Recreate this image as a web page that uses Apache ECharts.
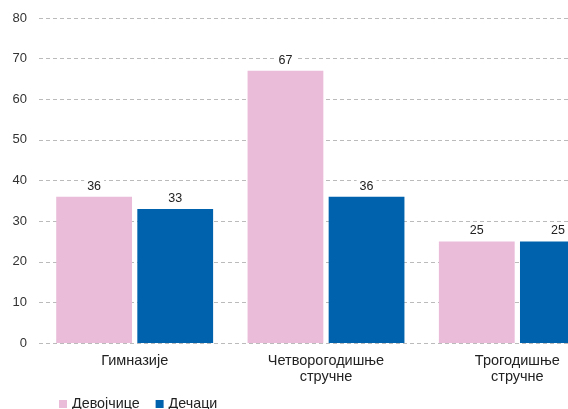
<!DOCTYPE html>
<html><head><meta charset="utf-8">
<script src="https://cdn.jsdelivr.net/npm/echarts@6/dist/echarts.min.js"></script>
<style>html,body{margin:0;padding:0;background:#fff;overflow:hidden;width:568px;height:409px}#c{width:620px;height:409px}</style>
</head><body><div id="c"></div>
<script>
const categories = ['Гимназије', 'Четворогодишње\nстручне', 'Трогодишње\nстручне'];
const seriesNames = ['Девојчице', 'Дечаци'];
const girls = [36, 67, 25];
const boys = [33, 36, 25];
const yTicks = { min: 0, max: 80, interval: 10 };

const chart = echarts.init(document.getElementById('c'), null, { renderer: 'canvas' });
const font = 'Liberation Sans, Arial, sans-serif';
const lbl = {
  show: true, position: 'top', distance: 4, color: '#222', fontSize: 12.5, fontFamily: font,
  backgroundColor: '#fff', padding: [0, 3]
};
chart.setOption({
  animation: false,
  grid: { left: 39, top: 18, width: 574, height: 325, containLabel: false },
  legend: {
    left: 54, top: 392, itemWidth: 8, itemHeight: 8, itemGap: 16,
    icon: 'rect',
    textStyle: { fontSize: 14.3, color: '#222', fontFamily: font },
    data: seriesNames
  },
  xAxis: {
    type: 'category', data: categories,
    axisLine: { show: false }, axisTick: { show: false },
    axisLabel: { color: '#222', fontSize: 14.5, fontFamily: font, margin: 10, lineHeight: 16 }
  },
  yAxis: {
    type: 'value', min: yTicks.min, max: yTicks.max, interval: yTicks.interval,
    axisLine: { show: false }, axisTick: { show: false },
    axisLabel: { color: '#333', fontSize: 13, fontFamily: font, margin: 12 },
    splitLine: { show: true, lineStyle: { color: '#bbb', type: [4, 3], width: 1 } }
  },
  series: [
    { name: seriesNames[0], type: 'bar', data: girls, itemStyle: { color: '#eabcd9' },
      barGap: '7%', barCategoryGap: '18%', label: lbl },
    { name: seriesNames[1], type: 'bar', data: boys, itemStyle: { color: '#0062ad' },
      barGap: '7%', barCategoryGap: '18%', label: lbl }
  ]
});
</script></body></html>
